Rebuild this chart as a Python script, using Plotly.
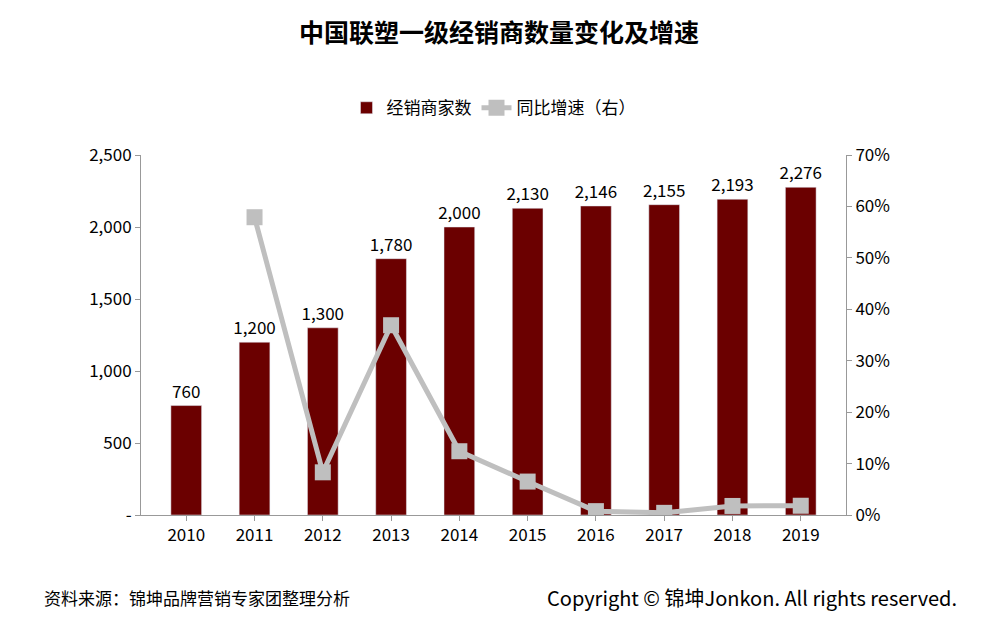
import plotly.graph_objects as go

years = ["2010", "2011", "2012", "2013", "2014", "2015", "2016", "2017", "2018", "2019"]
dealers = [760, 1200, 1300, 1780, 2000, 2130, 2146, 2155, 2193, 2276]
growth = [None, 57.9, 8.3, 36.9, 12.4, 6.5, 0.75, 0.42, 1.76, 1.8]

font = "Noto Sans CJK SC"
fig = go.Figure()
fig.add_bar(x=years, y=dealers, name="经销商家数", marker_color="#6b0000", width=0.45,
            text=[f"{v:,}" for v in dealers], textposition="outside", constraintext="none",
            textfont=dict(size=17, color="black"), cliponaxis=False)
fig.add_scatter(x=years, y=growth, name="同比增速（右）", yaxis="y2", mode="lines+markers",
                line=dict(color="#bfbfbf", width=5),
                marker=dict(symbol="square", size=16, color="#bfbfbf"))

fig.update_layout(
    width=982, height=636, plot_bgcolor="white", paper_bgcolor="white",
    font=dict(family=font, size=16, color="black"),
    title=dict(text="<b>中国联塑一级经销商数量变化及增速</b>", x=0.5, y=0.96, xanchor="center",
               yanchor="middle", font=dict(size=25, color="black")),
    legend=dict(orientation="h", x=0.5, xanchor="center", y=1.13, yanchor="middle",
                font=dict(size=17)),
    margin=dict(l=133, r=144, t=147, b=129),
    xaxis=dict(showline=True, linecolor="#999", ticks="outside", tickcolor="#999",
               tickfont=dict(size=17)),
    yaxis=dict(range=[0, 2500], tickvals=[0, 500, 1000, 1500, 2000, 2500],
               ticktext=["-", "500", "1,000", "1,500", "2,000", "2,500"],
               showgrid=False, showline=True, linecolor="#999", ticks="outside",
               tickcolor="#999", tickfont=dict(size=17), zeroline=False),
    yaxis2=dict(range=[0, 70], tickvals=list(range(0, 71, 10)),
                ticktext=[f"{v}%" for v in range(0, 71, 10)], overlaying="y", side="right",
                showgrid=False, showline=True, linecolor="#999", ticks="outside",
                tickcolor="#999", tickfont=dict(size=17), zeroline=False),
)
fig.add_annotation(text="资料来源：锦坤品牌营销专家团整理分析", xref="paper", yref="paper",
                   x=-0.14, y=-0.228, xanchor="left", yanchor="middle", showarrow=False,
                   font=dict(size=17))
fig.add_annotation(text="Copyright © 锦坤Jonkon. All rights reserved.", xref="paper", yref="paper",
                   x=1.16, y=-0.228, xanchor="right", yanchor="middle", showarrow=False,
                   font=dict(size=20))
fig.write_html("out.html")
